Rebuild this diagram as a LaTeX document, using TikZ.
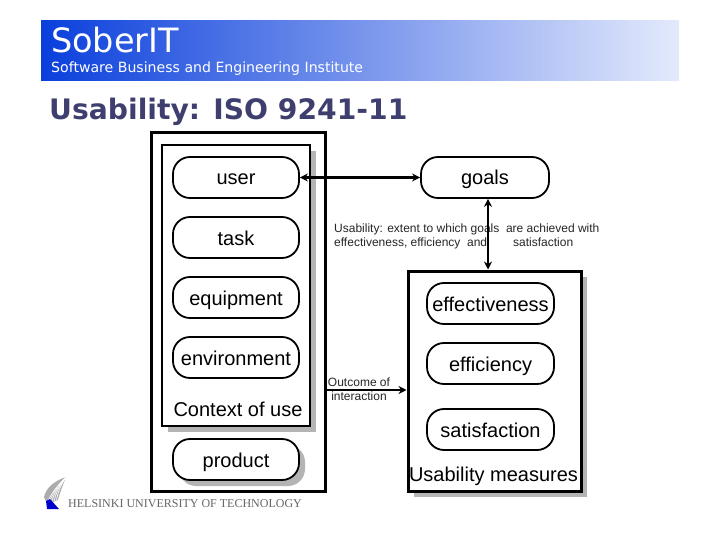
\documentclass[tikz,border=0pt]{standalone}
\usepackage{fontspec}
\setmainfont{Liberation Sans}
\newfontfamily\bannerfont{DejaVu Sans}
\newfontfamily\logofont{Liberation Serif}
\usetikzlibrary{arrows.meta,shadows}
\definecolor{titleblue}{HTML}{3F3F6F}
\definecolor{shadowgray}{HTML}{B4B4B4}
\definecolor{bannerleft}{HTML}{0A3FDC}
\definecolor{bannermid}{HTML}{7CA0F4}
\definecolor{bannerright}{HTML}{E4EAFC}
\tikzset{
  pill/.style={draw,line width=1.8pt,fill=white,rounded corners=17pt,minimum width=126pt,minimum height=41pt,inner sep=0pt,text height=15pt,text depth=0pt,font=\fontsize{20}{20}\selectfont},
  frame/.style={draw,fill=white,inner sep=0pt},
  caption/.style={inner sep=0pt,font=\fontsize{20}{20}\selectfont},
  note/.style={inner sep=0pt,font=\fontsize{12}{14}\selectfont,text=black!85},
  link/.style={line width=2.6pt,{Stealth[length=8pt,width=8pt]}-{Stealth[length=8pt,width=8pt]}},
  onelink/.style={line width=2.6pt,-{Stealth[length=8pt,width=8pt]}},
  flatshadow/.style={drop shadow={shadow xshift=6pt,shadow yshift=-6pt,fill=shadowgray,opacity=1}}
}
\begin{document}
\begin{tikzpicture}[x=1pt,y=-1pt]
\useasboundingbox (0,0) rectangle (720,540);
\fill[white] (0,0) rectangle (720,540);

%banner
\shade[left color=bannerleft,middle color=bannermid,right color=bannerright] (41,21) rectangle (679,81);
\node[anchor=base west,inner sep=0pt,text=white,font=\bannerfont\fontsize{33.5}{34}\selectfont] (brand) at (51,53) {SoberIT};
\node[anchor=base west,inner sep=0pt,text=white,font=\bannerfont\fontsize{14.1}{15}\selectfont] (institute) at (51,73) {Software Business and Engineering Institute};
\node[anchor=base west,inner sep=0pt,text=titleblue,font=\bannerfont\bfseries\fontsize{28.2}{29}\selectfont] (title) at (49,120) {Usability: ISO 9241-11};

%left side
\node[frame,line width=3pt,minimum width=174pt,minimum height=358pt] (productbox) at (238.5,312) {};
\node[frame,line width=2pt,flatshadow,minimum width=148pt,minimum height=281pt] (contextbox) at (236,285.5) {};
\node[pill] (user) at (236,177.5) {user};
\node[pill] (task) at (236,237.5) {task};
\node[pill] (equipment) at (236,297.5) {equipment};
\node[pill] (environment) at (236,357.5) {environment};
\node[caption] (context) at (238,409) {Context of use};
\node[pill,flatshadow] (product) at (236,459.5) {product};

%right side
\node[frame,line width=3pt,flatshadow,minimum width=173pt,minimum height=220pt] (measures) at (494.5,381) {};
\node[pill,minimum width=128pt] (goals) at (485,177.5) {goals};
\node[pill,minimum width=127pt] (effectiveness) at (490.5,303.5) {effectiveness};
\node[pill,minimum width=127pt] (efficiency) at (490.5,363.5) {efficiency};
\node[pill,minimum width=127pt] (satisfaction) at (490.5,429.5) {satisfaction};
\node[caption] (usabmeasures) at (493.5,476) {Usability measures};

%texts
\node[note,anchor=north west,align=left] (definition) at (334,224) {Usability: extent to which goals\ \ are achieved with\\effectiveness, efficiency\ \ and\hspace{26pt}satisfaction};
\node[note,align=center] (outcometext) at (359,389.5) {Outcome of\\interaction};

%arrows
\draw[link] (user) -- (goals);
\draw[link] ([xshift=3pt]goals.south) -- ([xshift=3pt]goals.south |- measures.north);
\coordinate (outcomestart) at (productbox.east |- 0,390);
\draw[onelink] (outcomestart) -- (outcomestart -| measures.west);

%logo
\fill[gray!65] (66,477) .. controls (54,481) and (46,488) .. (44,497) -- (47,504) -- (58,500) .. controls (60,492) and (63,485) .. (66,477) -- cycle;
\foreach \i in {0,...,4}
  \draw[white,line width=0.6pt] (47+\i*2.4,504-\i*1) .. controls (50+\i*2,495-\i*1) and (56+\i*1,487) .. (66,477);
\fill[blue!80!black] (46,501) -- (50,499) -- (59,509) -- (47,509) -- cycle;
\node[anchor=base west,inner sep=0pt,text=black!60,font=\logofont\fontsize{12}{12}\selectfont] (hut) at (68,507) {HELSINKI UNIVERSITY OF TECHNOLOGY};
\end{tikzpicture}
\end{document}
